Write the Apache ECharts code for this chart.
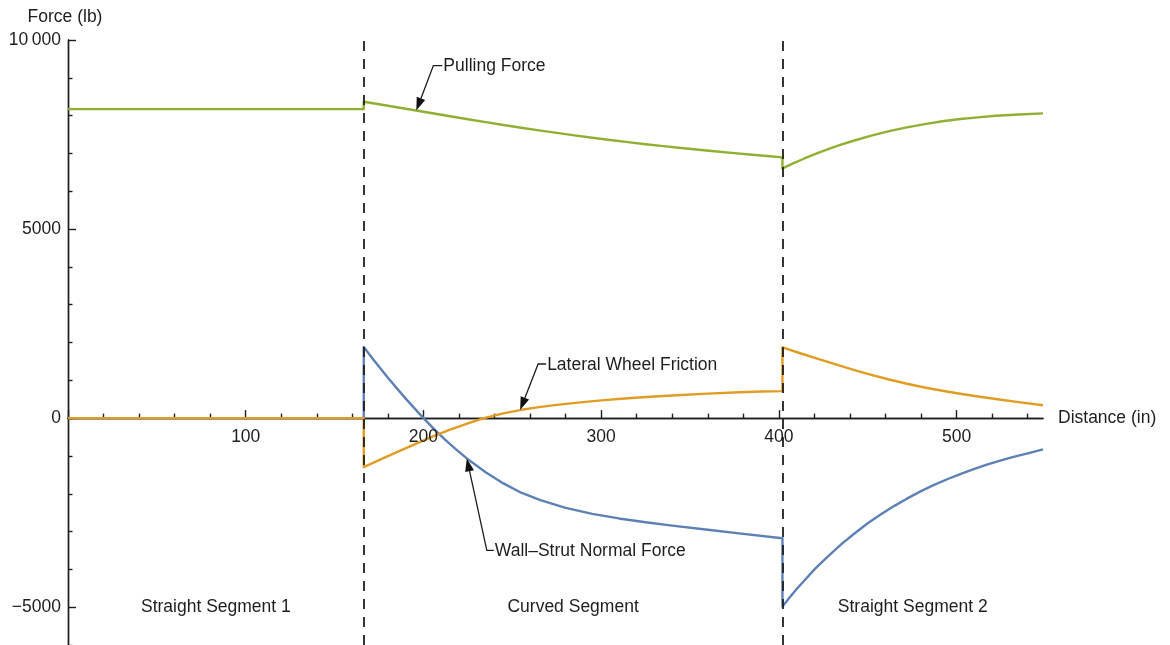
<!DOCTYPE html>
<html>
<head>
<meta charset="utf-8">
<script src="https://cdn.jsdelivr.net/npm/echarts@6/dist/echarts.min.js"></script>
<style>
  html, body { margin: 0; padding: 0; background: #fff; }
  #chart { width: 1170px; height: 645px; }
</style>
</head>
<body>
<div id="chart"></div>
<script>
// Track layout: segment boundaries along the run (in)
const segmentBounds = [0, 166.4, 402, 548.6];
const segmentNames = ['Straight Segment 1', 'Curved Segment', 'Straight Segment 2'];

// Forces along the track, [distance (in), force (lb)]
const pullingForce = [
  [0, 8173], [166.4, 8173],
  [166.4, 8366], [175, 8300], [185, 8222], [195, 8142], [205, 8062], [215, 7982],
  [225, 7904], [235, 7827], [245, 7752], [255, 7680], [265, 7610], [275, 7543],
  [285, 7478], [295, 7416], [305, 7356], [315, 7299], [325, 7244], [335, 7192],
  [345, 7143], [355, 7096], [365, 7051], [375, 7008], [385, 6966], [395, 6925], [402, 6895],
  [402, 6603], [408, 6735], [414, 6860], [422, 7015], [434, 7219], [442, 7335],
  [452, 7470], [462, 7590], [472, 7690], [482, 7775], [492, 7850], [502, 7910],
  [512, 7955], [522, 7995], [535, 8030], [548.6, 8060]
];
const lateralFriction = [
  [0, 0], [166.4, 0],
  [166.4, -1297], [175, -1112], [185, -900], [195, -693], [205, -490], [215, -305],
  [225, -140], [234, 0], [245, 125], [255, 220], [265, 290], [275, 350], [287, 410],
  [300, 470], [315, 525], [330, 572], [345, 612], [360, 647], [378, 685], [390, 705], [402, 715],
  [402, 1870], [412, 1716], [422, 1567], [432, 1420], [442, 1278], [452, 1144],
  [462, 1021], [472, 910], [482, 811], [492, 723], [502, 645], [512, 573],
  [524, 493], [536, 417], [548.6, 340]
];
const wallStrutForce = [
  [0, 0], [166.4, 0],
  [166.4, 1880], [172, 1538], [180, 1069], [190, 516], [200, 0], [206, -290],
  [212, -562], [218, -813], [224.4, -1066], [235, -1431], [245, -1727], [255, -1973],
  [265.8, -2167], [280, -2373], [295, -2531], [310, -2653], [325, -2753], [340, -2842],
  [360, -2953], [380, -3060], [402, -3177],
  [402, -4985], [406, -4745], [410, -4520], [415, -4260], [420, -4000], [427, -3680],
  [435, -3340], [442, -3070], [450, -2780], [457, -2555], [465, -2320], [472, -2130],
  [480, -1930], [487, -1773], [495, -1610], [502, -1478], [510, -1340], [517, -1230],
  [525, -1115], [532, -1025], [540, -930], [548.6, -825]
];

// Axis ticks and labels
const xMajorTicks = [0, 100, 200, 300, 400, 500];
const xLabelValues = [100, 200, 300, 400, 500];
const xMinorTicks = [20, 40, 60, 80, 120, 140, 160, 180, 220, 240, 260, 280,
  320, 340, 360, 380, 420, 440, 460, 480, 520, 540];
const yMajorTicks = [-5000, 0, 5000, 10000];
const yMinorTicks = [-6000, -4000, -3000, -2000, -1000, 1000, 2000, 3000, 4000,
  6000, 7000, 8000, 9000];

// Callouts: text, point on curve, elbow offset (px), short horizontal run (px)
const callouts = [
  { text: 'Pulling Force', tip: [196, 8134], elbow: [17, -45], run: 9 },
  { text: 'Lateral Wheel Friction', tip: [254.4, 215], elbow: [18, -46], run: 8 },
  { text: 'Wall\u2013Strut Normal Force', tip: [224.4, -1066], elbow: [20, 92], run: 7 }
];

const FONT = "'Liberation Sans', Arial, Helvetica, sans-serif";
const FS = 17.5;
const INK = '#1e1e1e';
const COLORS = { blue: '#5E81B5', orange: '#E19C24', green: '#8FB032' };

const chart = echarts.init(document.getElementById('chart'), null, { renderer: 'canvas' });

const axisLineStyle = { color: INK, width: 1.4 };
const textStyle = { color: INK, fontFamily: FONT, fontSize: FS };

function yFmt(v) {
  if (v === 10000) return '10\u2009000';
  return v < 0 ? '\u2212' + (-v) : String(v);
}

const segmentLabels = segmentNames.map((name, i) => ({
  name: name,
  value: [(segmentBounds[i] + segmentBounds[i + 1]) / 2, -5000]
}));
const xTickLabels = xLabelValues.map(v => ({ name: String(v), value: [v, 0] }));

const lineSeries = (name, data, color) => ({
  name: name,
  type: 'line',
  data: data,
  showSymbol: false,
  symbol: 'none',
  lineStyle: { color: color, width: 2.4, join: 'round' },
  itemStyle: { color: color },
  z: 3,
  silent: true
});

const textScatter = (name, data, labelPos, dist) => ({
  name: name,
  type: 'scatter',
  data: data,
  symbolSize: 1,
  itemStyle: { color: 'rgba(0,0,0,0)', opacity: 1 },
  silent: true,
  z: 6,
  label: Object.assign({ show: true, position: labelPos, distance: dist, formatter: '{b}' }, textStyle)
});

chart.setOption({
  animation: false,
  backgroundColor: '#fff',
  grid: { left: 68, top: 40, right: 127, bottom: 0, containLabel: false, outerBoundsMode: 'none' },
  xAxis: [
    {
      type: 'value', min: 0, max: segmentBounds[3], position: 'bottom',
      name: 'Distance (in)', nameLocation: 'end', nameGap: 15,
      nameTextStyle: Object.assign({}, textStyle, { verticalAlign: 'middle', align: 'left' }),
      axisLine: { show: true, onZero: true, onZeroAxisIndex: 0, lineStyle: axisLineStyle },
      axisTick: { show: true, inside: true, length: 8, customValues: xMajorTicks, lineStyle: axisLineStyle },
      axisLabel: { show: false },
      splitLine: { show: false }
    },
    {
      type: 'value', min: 0, max: segmentBounds[3], position: 'bottom',
      axisLine: { show: true, onZero: true, onZeroAxisIndex: 0, lineStyle: axisLineStyle },
      axisTick: { show: true, inside: true, length: 4.5, customValues: xMinorTicks, lineStyle: axisLineStyle },
      axisLabel: { show: false },
      splitLine: { show: false }
    }
  ],
  yAxis: [
    {
      type: 'value', min: -6000, max: 10000, position: 'left',
      name: 'Force (lb)', nameLocation: 'end', nameGap: 14,
      nameTextStyle: Object.assign({}, textStyle, { padding: [0, 6, 0, 0] }),
      axisLine: { show: true, onZero: false, lineStyle: axisLineStyle },
      axisTick: { show: true, inside: true, length: 8, customValues: yMajorTicks, lineStyle: axisLineStyle },
      axisLabel: Object.assign({ show: true, margin: 7, customValues: yMajorTicks, formatter: yFmt }, textStyle),
      splitLine: { show: false }
    },
    {
      type: 'value', min: -6000, max: 10000, position: 'left',
      axisLine: { show: true, onZero: false, lineStyle: axisLineStyle },
      axisTick: { show: true, inside: true, length: 4.5, customValues: yMinorTicks, lineStyle: axisLineStyle },
      axisLabel: { show: false },
      splitLine: { show: false }
    }
  ],
  series: [
    lineSeries('Wall\u2013Strut Normal Force', wallStrutForce, COLORS.blue),
    lineSeries('Lateral Wheel Friction', lateralFriction, COLORS.orange),
    lineSeries('Pulling Force', pullingForce, COLORS.green),
    {
      name: 'segment boundaries',
      type: 'line',
      data: [],
      silent: true,
      z: 5,
      markLine: {
        silent: true,
        symbol: ['none', 'none'],
        label: { show: false },
        lineStyle: { color: INK, width: 1.8, type: [10, 8] },
        data: segmentBounds.slice(1, 3).map(v => ({ xAxis: v }))
      }
    },
    textScatter('segments', segmentLabels, 'inside', 0),
    textScatter('x tick labels', xTickLabels, 'bottom', 10)
  ]
});

// Callouts with leader lines and filled arrowheads
function drawCallouts() {
  const els = [];
  callouts.forEach(c => {
    const [tx, ty] = chart.convertToPixel({ xAxisIndex: 0, yAxisIndex: 0 }, c.tip);
    const ex = tx + c.elbow[0], ey = ty + c.elbow[1];
    const lx = ex + c.run;
    const ang = Math.atan2(ty - ey, tx - ex);
    const L = 13, W = 4.5;
    const bx = tx - L * Math.cos(ang), by = ty - L * Math.sin(ang);
    const px = -Math.sin(ang) * W, py = Math.cos(ang) * W;
    els.push({
      type: 'polyline', z: 50, silent: true,
      shape: { points: [[lx, ey], [ex, ey], [bx, by]] },
      style: { stroke: INK, lineWidth: 1.3, fill: null }
    });
    els.push({
      type: 'polygon', z: 50, silent: true,
      shape: { points: [[tx, ty], [bx + px, by + py], [bx - px, by - py]] },
      style: { fill: '#111' }
    });
    els.push({
      type: 'text', z: 50, silent: true, x: lx + 1, y: ey + 1,
      style: { text: c.text, fill: INK, font: FS + 'px ' + FONT, verticalAlign: 'middle', align: 'left' }
    });
  });
  chart.setOption({ graphic: els });
}
drawCallouts();
</script>
</body>
</html>
